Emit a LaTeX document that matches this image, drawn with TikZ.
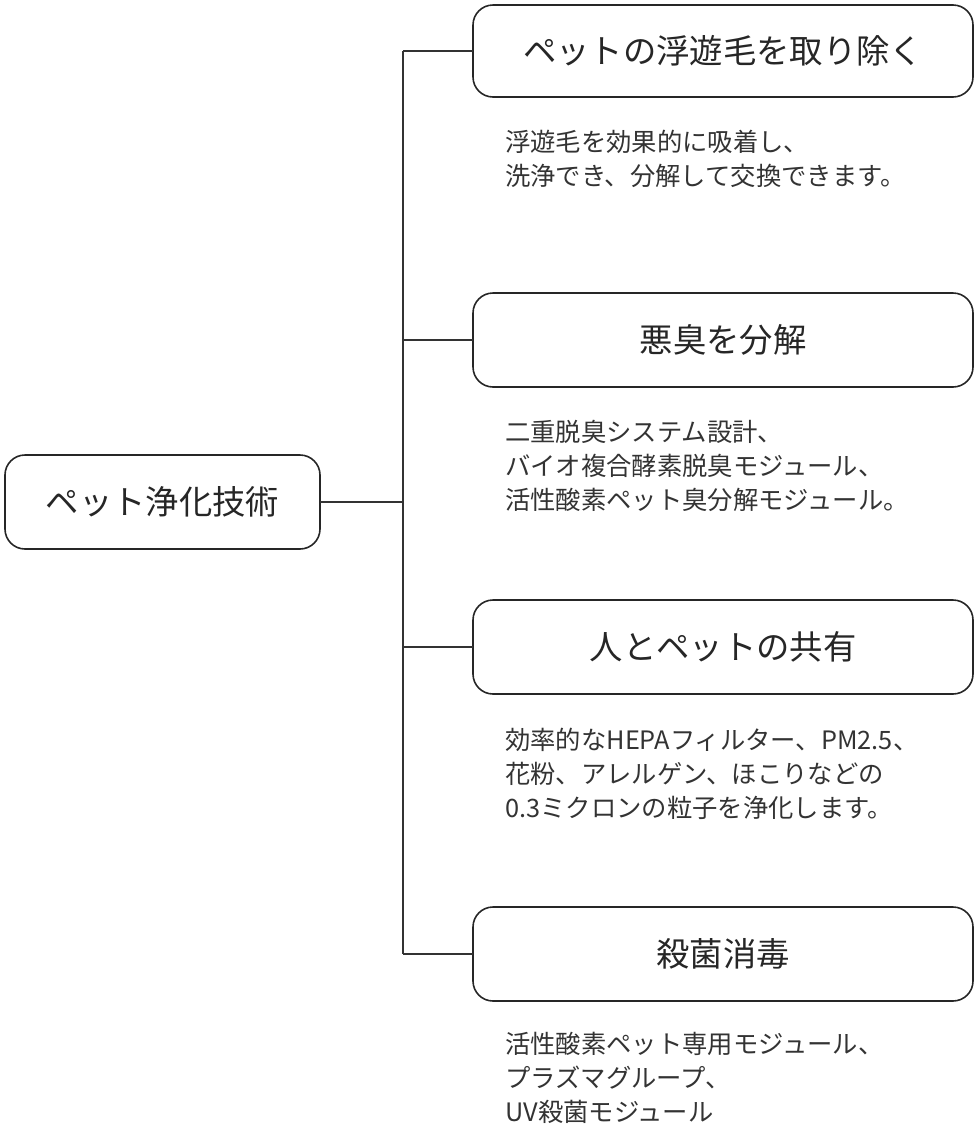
\documentclass[tikz,border=0pt]{standalone}
\usepackage{fontspec}
\setmainfont{Noto Sans CJK JP}
\begin{document}
\begin{tikzpicture}[x=0.75pt,y=-0.75pt,
  box/.style={draw=black!85,line width=1.2pt,rounded corners=15pt},
  ttl/.style={font=\fontsize{25}{30}\selectfont,text=black!85},
  desc/.style={font=\fontsize{19}{25.5}\selectfont,text=black!80,align=left,anchor=north west,inner sep=0pt},
  conn/.style={draw=black!80,line width=0.9pt}]
\useasboundingbox (0,0) rectangle (980,1143);
\draw[box] (5,455) rectangle (320,549);
\node[ttl] (root) at (162.5,502) {ペット浄化技術};
\coordinate (rootE) at (320,502);
\draw[box] (473,5) rectangle (973,97);
\node[ttl] (b1) at (723,51) {ペットの浮遊毛を取り除く};
\draw[box] (473,293) rectangle (973,387);
\node[ttl] (b2) at (723,340) {悪臭を分解};
\draw[box] (473,600) rectangle (973,694);
\node[ttl] (b3) at (723,647) {人とペットの共有};
\draw[box] (473,907) rectangle (973,1001);
\node[ttl] (b4) at (723,954) {殺菌消毒};
\coordinate (j) at (403,502);
\coordinate (t) at (403,51);
\coordinate (bt) at (403,954);
\coordinate (e1) at (473,51);
\coordinate (e2) at (473,340);
\coordinate (e3) at (473,647);
\coordinate (e4) at (473,954);
\draw[conn] (rootE) -- (j);
\draw[conn] (t) -- (bt);
\draw[conn] (t) -- (e1);
\draw[conn] (403,340) coordinate (m2) -- (e2);
\draw[conn] (403,647) coordinate (m3) -- (e3);
\draw[conn] (bt) -- (e4);
\node[desc] (d1) at (505,130) {浮遊毛を効果的に吸着し、\\洗浄でき、分解して交換できます。};
\node[desc] (d2) at (505,420) {二重脱臭システム設計、\\バイオ複合酵素脱臭モジュール、\\活性酸素ペット臭分解モジュール。};
\node[desc] (d3) at (505,728) {効率的なHEPAフィルター、PM2.5、\\花粉、アレルゲン、ほこりなどの\\0.3ミクロンの粒子を浄化します。};
\node[desc] (d4) at (505,1032) {活性酸素ペット専用モジュール、\\プラズマグループ、\\UV殺菌モジュール};
\end{tikzpicture}
\end{document}
